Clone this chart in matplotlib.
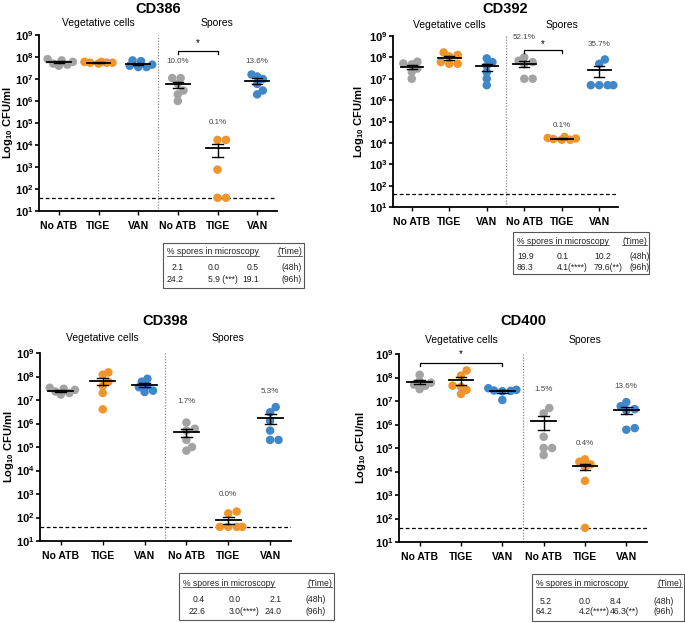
import numpy as np
import matplotlib
matplotlib.use("Agg")
import matplotlib.pyplot as plt
from matplotlib.patches import Rectangle
from matplotlib.lines import Line2D

plt.rcParams["font.family"] = ["Liberation Sans", "DejaVu Sans"]
plt.rcParams["mathtext.fontset"] = "custom"
plt.rcParams["mathtext.rm"] = "Liberation Sans"
plt.rcParams["mathtext.bf"] = "Liberation Sans:bold"

W, H = 685, 623
PT = 100 / 72.0  # px por ponto

grupos = ["No ATB", "TIGE", "VAN", "No ATB", "TIGE", "VAN"]
cores = ["#a3a3a3", "#f0952c", "#3f87c8"] * 2
limite_deteccao = 40

# ---- dados (CFU/ml), ordem: veg No ATB, TIGE, VAN, esporos No ATB, TIGE, VAN
cd386 = [
    [8e7, 7e7, 6e7, 5e7, 4.5e7, 4e7],
    [6e7, 5.5e7, 5.5e7, 5e7, 5.5e7, 6e7],
    [7e7, 6.5e7, 4.5e7, 4e7, 3.5e7, 3.5e7],
    [1.1e7, 1.1e7, 6e6, 3e6, 2e6, 1e6],
    [1.7e4, 1.7e4, 7.6e2, 40, 40],
    [1.6e7, 1.3e7, 1e7, 6e6, 3e6, 2e6],
]
cd392 = [
    [6.3e7, 5.2e7, 4.7e7, 3e7, 2.1e7, 1e7],
    [1.7e8, 1.3e8, 1.1e8, 6e7, 5e7, 5e7],
    [9e7, 6e7, 4e7, 2e7, 1e7, 5e6],
    [1e8, 7e7, 6e7, 5e7, 1e7, 1e7],
    [1.9e4, 1.7e4, 1.6e4, 1.5e4, 1.4e4, 1.4e4],
    [8e7, 5e7, 5e6, 5e6, 5e6, 5e6],
]
cd398 = [
    [3.3e7, 3e7, 2.7e7, 2.3e7, 2e7, 1.7e7],
    [1.5e8, 1.2e8, 6e7, 4e7, 2e7, 4e6],
    [8e7, 6e7, 4e7, 3.5e7, 2.5e7, 2.2e7],
    [1.1e6, 6e5, 5e5, 2e5, 1e5, 7e4],
    [1.8e2, 1.5e2, 40, 40, 40, 40],
    [5e6, 3e6, 1.3e6, 5e5, 2e5, 2e5],
]
cd400 = [
    [1.3e8, 7e7, 6e7, 5e7, 4.5e7, 3.2e7],
    [2e8, 1.2e8, 4.5e7, 4e7, 3e7, 2e7],
    [3.5e7, 3e7, 2.8e7, 2.7e7, 2.6e7, 1.1e7],
    [5e6, 3e6, 3e5, 1e5, 1e5, 5e4],
    [3.3e4, 2.6e4, 2e4, 1.6e4, 4e3, 40],
    [9e6, 6e6, 4.5e6, 4e6, 7e5, 6e5],
]

# percentagem de esporos indicada acima de cada grupo de esporos
cd386_pct = ["10.0%", "0.1%", "13.6%"]
cd392_pct = ["52.1%", "0.1%", "35.7%"]
cd398_pct = ["1.7%", "0.0%", "5.3%"]
cd400_pct = ["1.5%", "0.4%", "13.6%"]

# tabelas "% spores in microscopy"
cd386_tab = [["2.1", "0.0", "0.5", "(48h)"], ["24.2", "5.9 (***)", "19.1", "(96h)"]]
cd392_tab = [["19.9", "0.1", "10.2", "(48h)"], ["86.3", "4.1(****)", "79.6(**)", "(96h)"]]
cd398_tab = [["0.4", "0.0", "2.1", "(48h)"], ["22.6", "3.0(****)", "24.0", "(96h)"]]
cd400_tab = [["5.2", "0.0", "8.4", "(48h)"], ["64.2", "4.2(****)", "46.3(**)", "(96h)"]]


def px_para_fig(x, y):
    return x / W, 1 - y / H


def posicoes_enxame(ax, x0, valores, diam_px):
    # pontos espalhados na horizontal (estilo GraphPad), com alguma sobreposicao
    trans = ax.transData
    ys = [trans.transform((x0, v))[1] for v in valores]
    px_unid = trans.transform((1, 1))[0] - trans.transform((0, 1))[0]
    passo = diam_px * 0.33
    candidatos = [0.0] + [s * k * passo for k in range(1, 6) for s in (1, -1)]
    minimo = diam_px * 0.7
    colocados = []
    desloc = np.zeros(len(valores))
    for i in np.argsort(ys):
        melhor, melhor_d = 0.0, -1
        for dx in candidatos:
            d = min([np.hypot(dx - cx, ys[i] - cy) for cx, cy in colocados] or [99])
            if d >= minimo:
                melhor = dx
                break
            if d > melhor_d:
                melhor, melhor_d = dx, d
        colocados.append((melhor, ys[i]))
        desloc[i] = melhor / px_unid
    return x0 + desloc


def desenhar_painel(fig, caixa, nome, valores, pct, pct_y, colchete, topo_titulo, topo_cab, x_rotulo):
    esq, dir_, topo, base = caixa
    x0, y0 = px_para_fig(esq, base)
    ax = fig.add_axes([x0, y0, (dir_ - esq) / W, (base - topo) / H])
    ax.set_yscale("log")
    ax.set_ylim(10, 1e9)
    ax.set_xlim(-0.5, 5.5)

    for spine in ["top", "right"]:
        ax.spines[spine].set_visible(False)
    for spine in ["left", "bottom"]:
        ax.spines[spine].set_linewidth(1.3)

    ax.set_yticks([10.0 ** k for k in range(1, 10)])
    ax.set_yticklabels([r"$\mathbf{10^{%d}}$" % k for k in range(1, 10)], fontsize=8)
    ax.yaxis.set_minor_locator(matplotlib.ticker.NullLocator())
    ax.tick_params(axis="y", direction="out", length=3, width=1.2, pad=1)
    ax.set_xticks(range(6))
    ax.set_xticklabels(grupos, fontsize=7.5, fontweight="bold")
    ax.tick_params(axis="x", direction="out", length=3, width=1.0, pad=4)
    ax.set_ylabel(r"Log$_{\mathbf{10}}$ CFU/ml", fontsize=8, fontweight="bold")
    # rotulo vertical: a coordenada marca a borda direita do texto
    ax.yaxis.set_label_coords((x_rotulo - esq) / (dir_ - esq), 0.5)

    ax.axvline(2.5, color="#888888", lw=0.9, ls=(0, (1, 1.3)))
    ax.axhline(limite_deteccao, color="black", lw=0.9, ls=(0, (3, 2)), zorder=1)

    diam = 8.5
    for i, vals in enumerate(valores):
        xs = posicoes_enxame(ax, i, vals, diam)
        ax.scatter(xs, vals, s=(diam / PT) ** 2, color=cores[i], edgecolors="none", zorder=2)
        media = np.mean(vals)
        sem = np.std(vals, ddof=1) / np.sqrt(len(vals))
        ax.plot([i - 0.3, i + 0.3], [media, media], color="black", lw=1.3, zorder=3)
        ax.plot([i, i], [media - sem, media + sem], color="black", lw=1.0, zorder=3)
        for yb in (media - sem, media + sem):
            ax.plot([i - 0.13, i + 0.13], [yb, yb], color="black", lw=1.0, zorder=3)

    for k in range(3):
        ax.text(3 + k, pct_y[k], pct[k], fontsize=5.8, color="#444444", ha="center", va="center")

    if colchete is not None:
        xa, xb, yc, ye = colchete
        fator = 10 ** (-0.15)
        ax.plot([xa, xa, xb, xb], [yc * fator, yc, yc, yc * fator], color="black", lw=0.9,
                clip_on=False)
        ax.text((xa + xb) / 2, ye, "*", fontsize=7, ha="center", va="center", clip_on=False)

    ax.annotate(nome, xy=(2.5, 1), xycoords=("data", "axes fraction"),
                xytext=(0, (topo - topo_titulo) / PT), textcoords="offset points",
                ha="center", va="center", fontsize=10.5, fontweight="bold")
    for xc, txt in [(1, "Vegetative cells"), (4, "Spores")]:
        ax.annotate(txt, xy=(xc, 1), xycoords=("data", "axes fraction"),
                    xytext=(0, (topo - topo_cab) / PT), textcoords="offset points",
                    ha="center", va="center", fontsize=7.5)
    return ax


def desenhar_tabela(fig, caixa, linhas, y_cab, y_linhas, colunas):
    esq, dir_, topo, base = caixa
    x0, y0 = px_para_fig(esq, base)
    fig.patches.append(Rectangle((x0, y0), (dir_ - esq) / W, (base - topo) / H,
                                 transform=fig.transFigure, fill=False,
                                 edgecolor="#555555", lw=0.8))
    fs = 6.2
    xh, yh = px_para_fig(esq + 4, y_cab)
    cab = fig.text(xh, yh, "% spores in microscopy", fontsize=fs, ha="left", va="center",
                   color="#222222")
    xt, _ = px_para_fig(dir_ - 2, y_cab)
    tempo = fig.text(xt, yh, "(Time)", fontsize=fs, ha="right", va="center", color="#222222")
    # sublinhado
    fig.canvas.draw()
    rend = fig.canvas.get_renderer()
    for t in (cab, tempo):
        bb = t.get_window_extent(rend).transformed(fig.transFigure.inverted())
        yl = bb.y0 + 0.1 / H
        fig.lines.append(Line2D([bb.x0, bb.x1], [yl, yl], transform=fig.transFigure,
                                color="#222222", lw=0.5))
    for linha, yl in zip(linhas, y_linhas):
        for txt, (xc, ha) in zip(linha, colunas):
            xf, yf = px_para_fig(xc, yl)
            fig.text(xf, yf, txt, fontsize=fs, ha=ha, va="center", color="#222222")


def main():
    fig = plt.figure(figsize=(W / 100, H / 100), dpi=100)

    desenhar_painel(fig, (39, 277, 35, 211), "CD386", cd386, cd386_pct,
                    [6.2e7, 1e5, 6.2e7], (3, 4, 1.9e8, 4.2e8), 9, 23, 15)
    desenhar_painel(fig, (393, 618, 36, 207), "CD392", cd392, cd392_pct,
                    [8.3e8, 6.8e4, 3.8e8], (3, 4, 2.2e8, 4.2e8), 9, 25, 366)
    desenhar_painel(fig, (40, 291, 353, 541), "CD398", cd398, cd398_pct,
                    [8.7e6, 9.4e2, 2.3e7], None, 321, 338, 16)
    desenhar_painel(fig, (399, 647, 354, 542), "CD400", cd400, cd400_pct,
                    [3e7, 1.6e5, 4.2e7], (0, 2, 4.2e8, 1e9), 321, 340, 368)

    desenhar_tabela(fig, (163, 304, 243, 288), cd386_tab, 252, [268, 279],
                    [(184, "right"), (208, "left"), (259, "right"), (282, "left")])
    desenhar_tabela(fig, (513, 649, 232, 274), cd392_tab, 241, [256, 267],
                    [(517, "left"), (557, "left"), (594, "left"), (630, "left")])
    desenhar_tabela(fig, (179, 334, 573, 620), cd398_tab, 583, [600, 611],
                    [(205, "right"), (229, "left"), (282, "right"), (306, "left")])
    desenhar_tabela(fig, (532, 684, 574, 621), cd400_tab, 583, [601, 612],
                    [(552, "right"), (579, "left"), (610, "left"), (653, "left")])

    fig.savefig("out.png", dpi=100)


if __name__ == "__main__":
    main()
